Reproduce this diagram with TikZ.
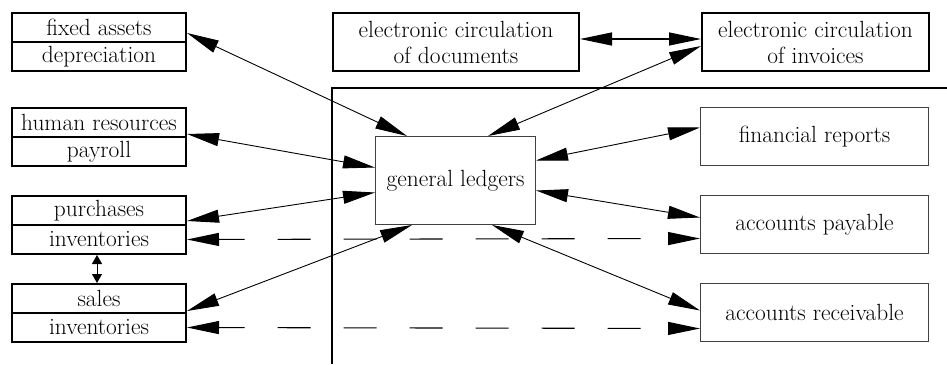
\documentclass[tikz,border=0pt]{standalone}
\usepackage{fontspec}
\usetikzlibrary{arrows.meta}
\begin{document}
\begin{tikzpicture}[x=1pt,y=-1pt,
  font=\fontsize{23.4}{26}\selectfont,
  leftbox/.style={draw=black,line width=2pt,minimum width=174pt,minimum height=29pt,inner sep=0pt,anchor=north west},
  topbox/.style={draw=black,line width=2pt,align=center,inner sep=0pt,anchor=north west,minimum height=58pt},
  rightbox/.style={draw=black!75,line width=1pt,minimum width=228pt,minimum height=58pt,inner sep=0pt,anchor=north west},
  conn/.style={line width=0.9pt,{Triangle[length=32pt,width=13pt]}-{Triangle[length=32pt,width=13pt]}},
  dconn/.style={conn,line width=1.1pt,dash pattern=on 33pt off 33pt,dash phase=7pt},
  small/.style={line width=1pt,{Triangle[length=9pt,width=10pt]}-{Triangle[length=9pt,width=10pt]}}
]
\useasboundingbox (0,0) rectangle (947,364);
% frame
\coordinate (fb) at (332,364);
\coordinate (fc) at (332,88);
\coordinate (fr) at (947,88);
\draw[line width=2pt] (fb) -- (fc) -- (fr);
% left boxes
\node[leftbox] (fa1) at (11,12) {fixed assets};
\node[leftbox] (fa2) at (11,41) {depreciation};
\node[leftbox] (hr1) at (11,107) {human resources};
\node[leftbox] (hr2) at (11,136) {payroll};
\node[leftbox] (pu1) at (11,195) {purchases};
\node[leftbox] (pu2) at (11,224) {inventories};
\node[leftbox] (sa1) at (11,283) {sales};
\node[leftbox] (sa2) at (11,312) {inventories};
% top boxes
\node[topbox,minimum width=246pt] (doc) at (332,12) {electronic circulation\\of documents};
\node[topbox,minimum width=227pt] (inv) at (701,12) {electronic circulation\\of invoices};
% general ledgers
\node[draw=black!75,line width=1pt,minimum width=160pt,minimum height=88pt,inner sep=0pt,anchor=north west] (gl) at (375,136) {general ledgers};
% right boxes
\node[rightbox] (frp) at (700,107) {financial reports};
\node[rightbox] (ap) at (700,195) {accounts payable};
\node[rightbox] (ar) at (700,283) {accounts receivable};
% connectors
\draw[conn] ([yshift=-5.5pt]fa1.east) -- ([xshift=32pt]gl.north west);
\draw[conn] ([yshift=-11.5pt]hr1.east) -- ([yshift=13pt]gl.west);
\draw[conn] ([yshift=-10.5pt]pu1.east) -- ([yshift=-12pt]gl.west);
\draw[conn] ([yshift=-12.5pt]sa1.east) -- ([xshift=37pt]gl.south west);
\draw[conn] ([yshift=-4pt]inv.west) -- ([xshift=113pt]gl.north west);
\draw[conn,line width=1.2pt] ([yshift=3pt]doc.east) -- ([yshift=3pt]inv.west);
\draw[conn] ([yshift=9pt]frp.west) -- ([yshift=20pt]gl.east);
\draw[conn] ([yshift=7pt]ap.west) -- ([yshift=-10pt]gl.east);
\draw[conn] ([yshift=2pt]ar.west) -- ([xshift=117pt]gl.south west);
\draw[dconn] (pu2.east) -- ([yshift=-14pt]ap.west);
\draw[dconn] (sa2.east) -- ([yshift=-16pt]ar.west);
\draw[small] ([xshift=-2pt]pu2.south) -- ([xshift=-2pt]sa1.north);
\end{tikzpicture}
\end{document}
